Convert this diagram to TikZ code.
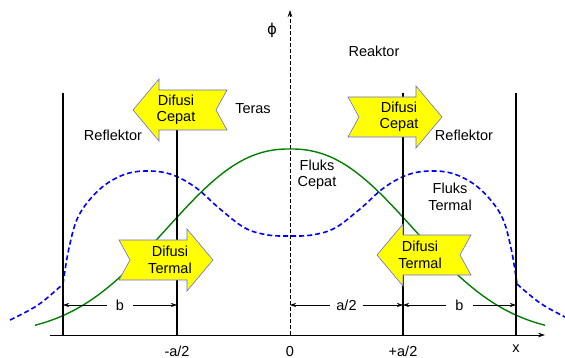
\documentclass[tikz,border=0pt]{standalone}
\usepackage{fontspec}
\setmainfont{Liberation Sans}
\newfontfamily\phifont{DejaVu Sans}
\usetikzlibrary{calc,arrows.meta,positioning}
\definecolor{fluxGreen}{RGB}{0,128,0}
\definecolor{fluxBlue}{RGB}{0,0,255}
\definecolor{arrowYellow}{RGB}{255,255,0}
\definecolor{arrowEdge}{RGB}{105,105,235}
\tikzset{
  lbl/.style={font=\fontsize{14.5}{16.5}\selectfont,align=center,inner sep=0pt},
  wall/.style={line width=2.6pt,line cap=butt},
  dimline/.style={line width=.6pt,{Stealth[length=6pt,width=4pt]}-{Stealth[length=6pt,width=4pt]}},
  fastflux/.style={fluxGreen,line width=1.4pt},
  thermflux/.style={fluxBlue,line width=1.6pt,dash pattern=on 5pt off 3pt},
  difbox/.style={fill=arrowYellow,draw=arrowEdge,line width=.6pt,line join=miter}
}
% #1 name, #2 centre, #3 direction (1 right, -1 left), #4 text
\newcommand{\difArrow}[4]{%
  \begin{scope}[shift={#2},xscale=#3]
    \path[difbox] (-47,-20) -- (21,-20) -- (21,-31) -- (47,0) -- (21,31) -- (21,20) -- (-47,20) -- (-36,0) -- cycle;
  \end{scope}
  \node[lbl] (#1) at ($#2+(#3*4,0)$) {#4};}

\begin{document}
\begin{tikzpicture}[x=1pt,y=-1pt]
\useasboundingbox (0,0) rectangle (565,358);

% flux curves
\draw[fastflux] plot[domain=-255:255,samples=52,smooth]
  ({290+\x},{335-186*exp(0-pow((abs(\x)+0.01)/159,2.29))});
\draw[thermflux] plot[smooth,tension=.6] coordinates {(10,320) (38,305) (63,284)};
\draw[thermflux] plot[smooth,tension=.6] coordinates {(63,284) (69,248) (79,215) (100,189) (123,175) (145,171)
  (170,174) (195,187) (220,209) (245,228) (268,235) (290,236) (312,235) (335,228) (360,209) (385,187)
  (410,174) (435,171) (457,175) (480,189) (501,215) (511,248) (517,284)};
\draw[thermflux] plot[smooth,tension=.6] coordinates {(517,284) (540,303) (565,317)};

% walls
\coordinate (reflLdim) at (63,305);
\coordinate (coreLdim) at (177,305);
\coordinate (coreRdim) at (403,305);
\coordinate (reflRdim) at (516,305);
\foreach \nm in {reflLdim,coreLdim,coreRdim,reflRdim}
  \draw[wall] (\nm|-0,93) -- (\nm|-0,335);

% axes
\coordinate (origin) at (290,335);
\coordinate (xend) at (545,335);
\coordinate (xstart) at (50,335);
\coordinate (phiend) at (290,10);
\coordinate (middim) at (290,305);
\draw[line width=.6pt,-{Stealth[length=7pt,width=4.5pt]}] (xstart) -- (xend);
\draw[line width=.6pt,dash pattern=on 4pt off 2pt,-{Stealth[length=7pt,width=4.5pt]}] (origin) -- (phiend);
\node[font=\phifont\fontsize{15}{17}\selectfont,inner sep=0pt] (phi) at (272,30) {ϕ};

% dimensions
\draw[dimline] (reflLdim) -- node[lbl,fill=white,inner xsep=9pt,inner ysep=2pt] (dimB1) {b} (coreLdim);
\draw[dimline] (middim) -- node[lbl,fill=white,inner xsep=6pt,inner ysep=2pt] (dimA) {a/2} (coreRdim);
\draw[dimline] (coreRdim) -- node[lbl,fill=white,inner xsep=9pt,inner ysep=2pt] (dimB2) {b} (reflRdim);

% tick labels
\node[lbl,anchor=base] (tickL) at (177,356) {-a/2};
\node[lbl,anchor=base] (tick0) at (290,356) {0};
\node[lbl,anchor=base] (tickR) at (403,356) {+a/2};
\node[lbl,anchor=base] (tickX) at (516,352) {x};

% diffusion arrows
\difArrow{difCL}{(180,110)}{-1}{Difusi\\Cepat}
\difArrow{difCR}{(395,117)}{1}{Difusi\\Cepat}
\difArrow{difTL}{(166,260)}{1}{Difusi\\Termal}
\difArrow{difTR}{(424,255)}{-1}{Difusi\\Termal}

% region and curve labels
\node[lbl] (reaktor) at (374,51) {Reaktor};
\node[lbl] (teras) at (253,109) {Teras};
\node[lbl] (reflLeft) at (113,135) {Reflektor};
\node[lbl] (reflRight) at (464,135) {Reflektor};
\node[lbl] (fluksCepat) at (317,175) {Fluks\\Cepat};
\node[lbl] (fluksTermal) at (450,197) {Fluks\\Termal};
\end{tikzpicture}
\end{document}
